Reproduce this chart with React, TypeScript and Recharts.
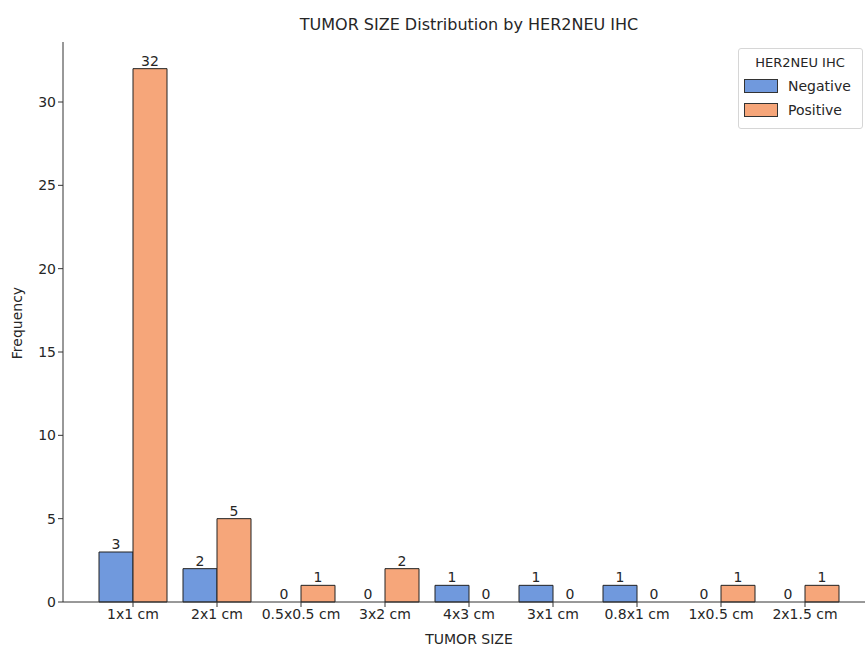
import { BarChart, Bar, XAxis, YAxis, LabelList, Cell } from 'recharts';

const categories = ['1x1 cm', '2x1 cm', '0.5x0.5 cm', '3x2 cm', '4x3 cm', '3x1 cm', '0.8x1 cm', '1x0.5 cm', '2x1.5 cm'];
const negative = [3, 2, 0, 0, 1, 1, 1, 0, 0];
const positive = [32, 5, 1, 2, 0, 0, 0, 1, 1];
const yTicks = [0, 5, 10, 15, 20, 25, 30];

const data = categories.map((size, i) => ({ size, Negative: negative[i], Positive: positive[i] }));

const BLUE = '#7099dd';
const ORANGE = '#f6a67a';
const FONT = 'DejaVu Sans, sans-serif';

// draws the count above every bar, zeros included
function CountLabel(props: any) {
  const { x, y, width, height, value } = props;
  if (x == null || y == null) return null;
  const top = value === 0 ? y + height : y;
  return (
    <text x={x + width / 2} y={top - 3} textAnchor="middle" fill="#262626" fontSize={14} fontFamily={FONT}>
      {value}
    </text>
  );
}

function LegendBox() {
  const items = [
    { name: 'Negative', color: BLUE },
    { name: 'Positive', color: ORANGE },
  ];
  return (
    <div
      style={{
        position: 'absolute',
        top: 48,
        left: 738,
        border: '1px solid #d6d6d6',
        borderRadius: 3,
        background: 'rgba(255,255,255,0.85)',
        padding: '6px 6px 6px 5px',
        fontFamily: FONT,
        fontSize: 14,
        color: '#262626',
        width: 112,
      }}
    >
      <div style={{ textAlign: 'center', fontSize: 13, marginBottom: 4 }}>HER2NEU IHC</div>
      {items.map((it) => (
        <div key={it.name} style={{ display: 'flex', alignItems: 'center', height: 24 }}>
          <div style={{ width: 32, height: 12, background: it.color, border: '1px solid #333', marginRight: 10 }} />
          <span>{it.name}</span>
        </div>
      ))}
    </div>
  );
}

export default function App() {
  return (
    <div style={{ position: 'absolute', left: 0, top: 0, width: 865, height: 647, overflow: 'hidden', background: '#fff' }}>
      <div
        style={{
          position: 'absolute',
          top: 15,
          left: 63,
          width: 812,
          textAlign: 'center',
          fontFamily: FONT,
          fontSize: 16,
          color: '#262626',
        }}
      >
        TUMOR SIZE Distribution by HER2NEU IHC
      </div>
      <div
        style={{
          position: 'absolute',
          left: 0,
          top: 323,
          transform: 'translate(-50%, -50%) rotate(-90deg)',
          marginLeft: 17,
          fontFamily: FONT,
          fontSize: 14,
          color: '#262626',
          whiteSpace: 'nowrap',
        }}
      >
        Frequency
      </div>
      <div
        style={{
          position: 'absolute',
          top: 631,
          left: 63,
          width: 812,
          textAlign: 'center',
          fontFamily: FONT,
          fontSize: 14,
          color: '#262626',
        }}
      >
        TUMOR SIZE
      </div>
      <BarChart
        width={880}
        height={647}
        data={data}
        margin={{ top: 42, right: 5, bottom: 0, left: 0 }}
        barCategoryGap={8}
        barGap={0}
        style={{ fontFamily: FONT }}
      >
        <XAxis
          dataKey="size"
          height={45}
          padding={{ left: 28, right: 28 }}
          interval={0}
          tickSize={5}
          axisLine={{ stroke: '#333' }}
          tickLine={{ stroke: '#333' }}
          tick={{ fill: '#262626', fontSize: 14 }}
        />
        <XAxis xAxisId="top" dataKey="size" orientation="top" height={0} tick={false} tickLine={false} axisLine={{ stroke: '#333' }} />
        <YAxis
          width={63}
          domain={[0, 33.6]}
          ticks={yTicks}
          tickSize={5}
          axisLine={{ stroke: '#333' }}
          tickLine={{ stroke: '#333' }}
          tick={{ fill: '#262626', fontSize: 14 }}
        />
        <Bar dataKey="Negative" fill={BLUE} stroke="#222" strokeWidth={1} minPointSize={1} isAnimationActive={false}>
          {negative.map((v, i) => (
            <Cell key={i} fill={v === 0 ? 'none' : BLUE} stroke={v === 0 ? 'none' : '#222'} />
          ))}
          <LabelList dataKey="Negative" content={CountLabel} />
        </Bar>
        <Bar dataKey="Positive" fill={ORANGE} stroke="#222" strokeWidth={1} minPointSize={1} isAnimationActive={false}>
          {positive.map((v, i) => (
            <Cell key={i} fill={v === 0 ? 'none' : ORANGE} stroke={v === 0 ? 'none' : '#222'} />
          ))}
          <LabelList dataKey="Positive" content={CountLabel} />
        </Bar>
      </BarChart>
      <LegendBox />
    </div>
  );
}
